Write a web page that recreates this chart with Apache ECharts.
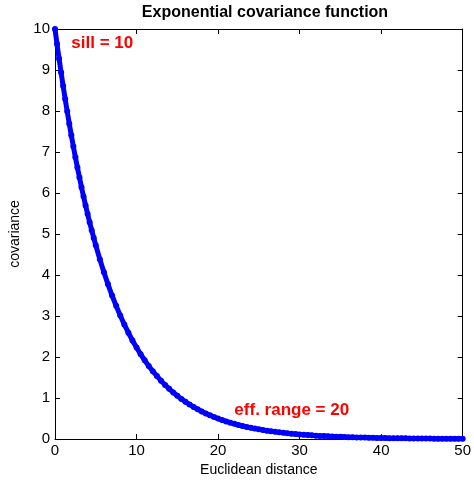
<!DOCTYPE html>
<html><head><meta charset="utf-8">
<script src="https://cdn.jsdelivr.net/npm/echarts@6/dist/echarts.min.js"></script>
<style>html,body{margin:0;padding:0;background:#fff}#c{width:474px;height:489px}</style>
</head><body><div id="c"></div>
<script>
const distance = [0,0.25,0.5,0.75,1,1.25,1.5,1.75,2,2.25,2.5,2.75,3,3.25,3.5,3.75,4,4.25,4.5,4.75,5,5.5,6,6.5,7,7.5,8,8.5,9,9.5,10,10.5,11,11.5,12,12.5,13,13.5,14,14.5,15,15.5,16,16.5,17,17.5,18,18.5,19,19.5,20,20.5,21,21.5,22,22.5,23,23.5,24,24.5,25,25.5,26,26.5,27,27.5,28,28.5,29,29.5,30,30.5,31,31.5,32,32.5,33,33.5,34,34.5,35,35.5,36,36.5,37,37.5,38,38.5,39,39.5,40,40.5,41,41.5,42,42.5,43,43.5,44,44.5,45,45.5,46,46.5,47,47.5,48,48.5,49,49.5,50];
const covariance = [10,9.632,9.277,8.936,8.607,8.290,7.985,7.691,7.408,7.136,6.873,6.620,6.376,6.142,5.916,5.698,5.488,5.286,5.092,4.904,4.724,4.382,4.066,3.772,3.499,3.247,3.012,2.794,2.592,2.405,2.231,2.070,1.921,1.782,1.653,1.534,1.423,1.320,1.225,1.136,1.054,0.978,0.907,0.842,0.781,0.724,0.672,0.624,0.578,0.537,0.498,0.462,0.429,0.398,0.369,0.342,0.318,0.295,0.273,0.254,0.235,0.218,0.202,0.188,0.174,0.162,0.150,0.139,0.129,0.120,0.111,0.103,0.096,0.089,0.082,0.076,0.071,0.066,0.061,0.057,0.053,0.049,0.045,0.042,0.039,0.036,0.034,0.031,0.029,0.027,0.025,0.023,0.021,0.020,0.018,0.017,0.016,0.015,0.014,0.013,0.012,0.011,0.010,0.009,0.009,0.008,0.008,0.007,0.006,0.006,0.006];
const annotations = [{pos:[2.0,9.66], text:'sill = 10'},{pos:[22.0,0.69], text:'eff. range = 20'}];
const xTicks = {min:0,max:50,interval:10};
const yTicks = {min:0,max:10,interval:1};

const chart = echarts.init(document.getElementById('c'));
const font = 'Liberation Sans, Arial, sans-serif';
function axisCommon(){
  return {
    axisLine:{show:true,onZero:false,lineStyle:{color:'#000',width:1}},
    axisTick:{show:true,inside:true,length:5,lineStyle:{color:'#000'}},
    splitLine:{show:false}
  };
}
chart.setOption({
  animation:false,
  title:{text:'Exponential covariance function',left:260,top:0,textAlign:'center',
    textStyle:{fontFamily:font,fontSize:16,fontWeight:'bold',color:'#000'}},
  grid:{left:55,right:7,top:29,bottom:50},
  xAxis:[
    Object.assign({type:'value',min:xTicks.min,max:xTicks.max,interval:xTicks.interval,position:'bottom',
      name:'Euclidean distance',nameLocation:'middle',nameGap:24,
      nameTextStyle:{fontFamily:font,fontSize:14,color:'#000'},
      axisLabel:{fontFamily:font,fontSize:15,color:'#000',margin:4}},axisCommon()),
    Object.assign({type:'value',min:xTicks.min,max:xTicks.max,interval:xTicks.interval,position:'top',
      axisLabel:{show:false}},axisCommon())
  ],
  yAxis:[
    Object.assign({type:'value',min:yTicks.min,max:yTicks.max,interval:yTicks.interval,position:'left',
      name:'covariance',nameLocation:'middle',nameGap:27,
      nameTextStyle:{fontFamily:font,fontSize:14,color:'#000'},
      axisLabel:{fontFamily:font,fontSize:15,color:'#000',margin:5}},axisCommon()),
    Object.assign({type:'value',min:yTicks.min,max:yTicks.max,interval:yTicks.interval,position:'right',
      axisLabel:{show:false}},axisCommon())
  ],
  series:[
    {type:'line',data:distance.map((d,i)=>[d,covariance[i]]),
      showSymbol:true,symbol:'circle',symbolSize:6,
      itemStyle:{color:'#0000ff',opacity:1},lineStyle:{color:'#0000ff',width:5},clip:false},
    {type:'scatter',symbolSize:0,data:annotations.map(a=>({value:a.pos,name:a.text})),
      itemStyle:{opacity:1},
      label:{show:true,position:'right',distance:0,formatter:p=>p.name,
        fontFamily:font,fontSize:17,fontWeight:'bold',color:'#ff0000'}}
  ]
});
</script></body></html>
